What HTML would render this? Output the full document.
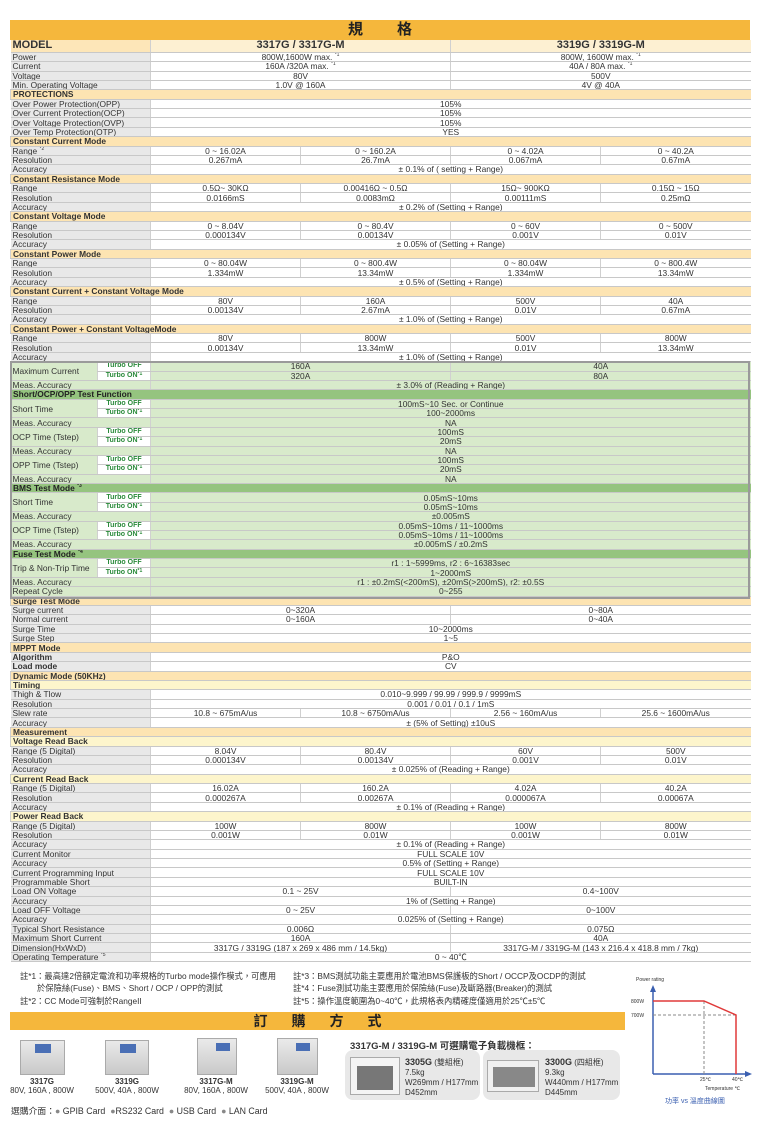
<!DOCTYPE html>
<html><head><meta charset="utf-8">
<style>
*{margin:0;padding:0;box-sizing:border-box}
body{width:760px;height:1133px;background:#fff;position:relative;overflow:hidden;font-family:"Liberation Sans","Noto Sans CJK TC",sans-serif;color:#333}
.title{position:absolute;left:10px;top:20px;width:740px;height:20px;background:#f5b73c;text-align:center;font:bold 15px/20px "Liberation Sans","Noto Sans CJK TC",sans-serif;color:#222;letter-spacing:34px;padding-left:34px}
table{position:absolute;left:10px;top:40px;width:740px;border-collapse:collapse;table-layout:fixed}
td{height:9.385px;font-size:8.4px;line-height:8px;padding:0;border-bottom:1px solid #c8c8c8;border-left:1px solid #d0d0d0;text-align:center;white-space:nowrap;overflow:hidden;background:#fff}
td.l{text-align:left;padding-left:2px;background:#e8e8e8;border-left:none}
tr.m td{height:12.3px;font-size:11px;font-weight:bold;background:#fdf0d2;line-height:11px}
tr.m td.l{background:#fde6b8}
tr.h td{background:#fde4b2;font-weight:bold;text-align:left;padding-left:2px}
tr.y td{background:#fdf5cc;font-weight:bold;text-align:left;padding-left:2px}
tr.g td{background:#d8eacb}
tr.g td.l{background:#d8eacb}
tr.gh td{background:#95c47f;font-weight:bold;text-align:left;padding-left:2px;color:#222}
td.t{background:#fff!important;color:#2a8a3a;font-weight:bold;font-size:7px;text-align:center}
sup{font-size:5px;vertical-align:top;line-height:5px}
.gbox{position:absolute;left:10px;top:361px;width:740px;height:238px;border:2px solid #9a9a9a;pointer-events:none}
.n{position:absolute;font-size:8.3px;color:#333;white-space:nowrap}
.bar{position:absolute;left:10px;top:1012px;width:615px;height:18px;background:#f5b73c;text-align:center;font:bold 14px/18px "Liberation Sans","Noto Sans CJK TC",sans-serif;letter-spacing:24px;padding-left:24px;color:#222}
.dev{position:absolute;background:linear-gradient(#eaeaea,#c9c9c9);border:1px solid #aaa}
.scr{position:absolute;background:#4a6fb5}
.cap{position:absolute;font-size:8px;text-align:center;width:90px}
.box{position:absolute;top:1050px;height:50px;background:#e8e8e8;border-radius:8px}
</style></head><body>
<div class="title">規格</div>
<table>
<colgroup><col style="width:87px"><col style="width:53px"><col style="width:150px"><col style="width:150px"><col style="width:150px"><col style="width:150px"></colgroup>
<tr class="m"><td class="l" colspan="2">MODEL</td><td colspan="2">3317G / 3317G-M</td><td colspan="2">3319G / 3319G-M</td></tr>
<tr><td class="l" colspan="2">Power</td><td colspan="2">800W,1600W max. <sup>*1</sup></td><td colspan="2">800W, 1600W max. <sup>*1</sup></td></tr>
<tr><td class="l" colspan="2">Current</td><td colspan="2">160A /320A max. <sup>*1</sup></td><td colspan="2">40A / 80A max. <sup>*1</sup></td></tr>
<tr><td class="l" colspan="2">Voltage</td><td colspan="2">80V</td><td colspan="2">500V</td></tr>
<tr><td class="l" colspan="2">Min. Operating Voltage</td><td colspan="2">1.0V @ 160A</td><td colspan="2">4V @ 40A</td></tr>
<tr class="h"><td colspan="6">PROTECTIONS</td></tr>
<tr><td class="l" colspan="2">Over Power Protection(OPP)</td><td colspan="4">105%</td></tr>
<tr><td class="l" colspan="2">Over Current Protection(OCP)</td><td colspan="4">105%</td></tr>
<tr><td class="l" colspan="2">Over Voltage Protection(OVP)</td><td colspan="4">105%</td></tr>
<tr><td class="l" colspan="2">Over Temp Protection(OTP)</td><td colspan="4">YES</td></tr>
<tr class="h"><td colspan="6">Constant Current Mode</td></tr>
<tr><td class="l" colspan="2">Range <sup>*2</sup></td><td>0 ~ 16.02A</td><td>0 ~ 160.2A</td><td>0 ~ 4.02A</td><td>0 ~ 40.2A</td></tr>
<tr><td class="l" colspan="2">Resolution</td><td>0.267mA</td><td>26.7mA</td><td>0.067mA</td><td>0.67mA</td></tr>
<tr><td class="l" colspan="2">Accuracy</td><td colspan="4">± 0.1% of ( setting + Range)</td></tr>
<tr class="h"><td colspan="6">Constant Resistance Mode</td></tr>
<tr><td class="l" colspan="2">Range</td><td>0.5Ω~ 30KΩ</td><td>0.00416Ω ~ 0.5Ω</td><td>15Ω~ 900KΩ</td><td>0.15Ω ~ 15Ω</td></tr>
<tr><td class="l" colspan="2">Resolution</td><td>0.0166mS</td><td>0.0083mΩ</td><td>0.00111mS</td><td>0.25mΩ</td></tr>
<tr><td class="l" colspan="2">Accuracy</td><td colspan="4">± 0.2% of (Setting + Range)</td></tr>
<tr class="h"><td colspan="6">Constant Voltage Mode</td></tr>
<tr><td class="l" colspan="2">Range</td><td>0 ~ 8.04V</td><td>0 ~ 80.4V</td><td>0 ~ 60V</td><td>0 ~ 500V</td></tr>
<tr><td class="l" colspan="2">Resolution</td><td>0.000134V</td><td>0.00134V</td><td>0.001V</td><td>0.01V</td></tr>
<tr><td class="l" colspan="2">Accuracy</td><td colspan="4">± 0.05% of (Setting + Range)</td></tr>
<tr class="h"><td colspan="6">Constant Power Mode</td></tr>
<tr><td class="l" colspan="2">Range</td><td>0 ~ 80.04W</td><td>0 ~ 800.4W</td><td>0 ~ 80.04W</td><td>0 ~ 800.4W</td></tr>
<tr><td class="l" colspan="2">Resolution</td><td>1.334mW</td><td>13.34mW</td><td>1.334mW</td><td>13.34mW</td></tr>
<tr><td class="l" colspan="2">Accuracy</td><td colspan="4">± 0.5% of (Setting + Range)</td></tr>
<tr class="h"><td colspan="6">Constant Current + Constant Voltage Mode</td></tr>
<tr><td class="l" colspan="2">Range</td><td>80V</td><td>160A</td><td>500V</td><td>40A</td></tr>
<tr><td class="l" colspan="2">Resolution</td><td>0.00134V</td><td>2.67mA</td><td>0.01V</td><td>0.67mA</td></tr>
<tr><td class="l" colspan="2">Accuracy</td><td colspan="4">± 1.0% of (Setting + Range)</td></tr>
<tr class="h"><td colspan="6">Constant Power + Constant VoltageMode</td></tr>
<tr><td class="l" colspan="2">Range</td><td>80V</td><td>800W</td><td>500V</td><td>800W</td></tr>
<tr><td class="l" colspan="2">Resolution</td><td>0.00134V</td><td>13.34mW</td><td>0.01V</td><td>13.34mW</td></tr>
<tr><td class="l" colspan="2">Accuracy</td><td colspan="4">± 1.0% of (Setting + Range)</td></tr>
<tr class="g"><td class="l" rowspan="2">Maximum Current</td><td class="t">Turbo OFF</td><td colspan="2">160A</td><td colspan="2">40A</td></tr>
<tr class="g"><td class="t">Turbo ON<sup>*1</sup></td><td colspan="2">320A</td><td colspan="2">80A</td></tr>
<tr class="g"><td class="l" colspan="2">Meas. Accuracy</td><td colspan="4">± 3.0% of (Reading + Range)</td></tr>
<tr class="gh"><td colspan="6">Short/OCP/OPP Test Function</td></tr>
<tr class="g"><td class="l" rowspan="2">Short Time</td><td class="t">Turbo OFF</td><td colspan="4">100mS~10 Sec. or Continue</td></tr>
<tr class="g"><td class="t">Turbo ON<sup>*1</sup></td><td colspan="4">100~2000ms</td></tr>
<tr class="g"><td class="l" colspan="2">Meas. Accuracy</td><td colspan="4">NA</td></tr>
<tr class="g"><td class="l" rowspan="2">OCP Time (Tstep)</td><td class="t">Turbo OFF</td><td colspan="4">100mS</td></tr>
<tr class="g"><td class="t">Turbo ON<sup>*1</sup></td><td colspan="4">20mS</td></tr>
<tr class="g"><td class="l" colspan="2">Meas. Accuracy</td><td colspan="4">NA</td></tr>
<tr class="g"><td class="l" rowspan="2">OPP Time (Tstep)</td><td class="t">Turbo OFF</td><td colspan="4">100mS</td></tr>
<tr class="g"><td class="t">Turbo ON<sup>*1</sup></td><td colspan="4">20mS</td></tr>
<tr class="g"><td class="l" colspan="2">Meas. Accuracy</td><td colspan="4">NA</td></tr>
<tr class="gh"><td colspan="6">BMS Test Mode <sup>*3</sup></td></tr>
<tr class="g"><td class="l" rowspan="2">Short Time</td><td class="t">Turbo OFF</td><td colspan="4">0.05mS~10ms</td></tr>
<tr class="g"><td class="t">Turbo ON<sup>*1</sup></td><td colspan="4">0.05mS~10ms</td></tr>
<tr class="g"><td class="l" colspan="2">Meas. Accuracy</td><td colspan="4">±0.005mS</td></tr>
<tr class="g"><td class="l" rowspan="2">OCP Time (Tstep)</td><td class="t">Turbo OFF</td><td colspan="4">0.05mS~10ms / 11~1000ms</td></tr>
<tr class="g"><td class="t">Turbo ON<sup>*1</sup></td><td colspan="4">0.05mS~10ms / 11~1000ms</td></tr>
<tr class="g"><td class="l" colspan="2">Meas. Accuracy</td><td colspan="4">±0.005mS / ±0.2mS</td></tr>
<tr class="gh"><td colspan="6">Fuse Test Mode <sup>*4</sup></td></tr>
<tr class="g"><td class="l" rowspan="2">Trip &amp; Non-Trip Time</td><td class="t">Turbo OFF</td><td colspan="4">r1 : 1~5999ms, r2 : 6~16383sec</td></tr>
<tr class="g"><td class="t">Turbo ON<sup>*1</sup></td><td colspan="4">1~2000mS</td></tr>
<tr class="g"><td class="l" colspan="2">Meas. Accuracy</td><td colspan="4">r1 : ±0.2mS(&lt;200mS), ±20mS(&gt;200mS), r2: ±0.5S</td></tr>
<tr class="g"><td class="l" colspan="2">Repeat Cycle</td><td colspan="4">0~255</td></tr>
<tr class="h"><td colspan="6">Surge Test Mode</td></tr>
<tr><td class="l" colspan="2">Surge current</td><td colspan="2">0~320A</td><td colspan="2">0~80A</td></tr>
<tr><td class="l" colspan="2">Normal current</td><td colspan="2">0~160A</td><td colspan="2">0~40A</td></tr>
<tr><td class="l" colspan="2">Surge Time</td><td colspan="4">10~2000ms</td></tr>
<tr><td class="l" colspan="2">Surge Step</td><td colspan="4">1~5</td></tr>
<tr class="h"><td colspan="6">MPPT Mode</td></tr>
<tr><td class="l" colspan="2" style="font-weight:bold">Algorithm</td><td colspan="4">P&amp;O</td></tr>
<tr><td class="l" colspan="2" style="font-weight:bold">Load mode</td><td colspan="4">CV</td></tr>
<tr class="h"><td colspan="6">Dynamic Mode (50KHz)</td></tr>
<tr class="y"><td colspan="6">Timing</td></tr>
<tr><td class="l" colspan="2">Thigh &amp; Tlow</td><td colspan="4">0.010~9.999 / 99.99 / 999.9 / 9999mS</td></tr>
<tr><td class="l" colspan="2">Resolution</td><td colspan="4">0.001 / 0.01 / 0.1 / 1mS</td></tr>
<tr><td class="l" colspan="2">Slew rate</td><td>10.8 ~ 675mA/us</td><td>10.8 ~ 6750mA/us</td><td>2.56 ~ 160mA/us</td><td>25.6 ~ 1600mA/us</td></tr>
<tr><td class="l" colspan="2">Accuracy</td><td colspan="4">± (5% of Setting) ±10uS</td></tr>
<tr class="h"><td colspan="6">Measurement</td></tr>
<tr class="y"><td colspan="6">Voltage Read Back</td></tr>
<tr><td class="l" colspan="2">Range (5 Digital)</td><td>8.04V</td><td>80.4V</td><td>60V</td><td>500V</td></tr>
<tr><td class="l" colspan="2">Resolution</td><td>0.000134V</td><td>0.00134V</td><td>0.001V</td><td>0.01V</td></tr>
<tr><td class="l" colspan="2">Accuracy</td><td colspan="4">± 0.025% of (Reading + Range)</td></tr>
<tr class="y"><td colspan="6">Current Read Back</td></tr>
<tr><td class="l" colspan="2">Range (5 Digital)</td><td>16.02A</td><td>160.2A</td><td>4.02A</td><td>40.2A</td></tr>
<tr><td class="l" colspan="2">Resolution</td><td>0.000267A</td><td>0.00267A</td><td>0.000067A</td><td>0.00067A</td></tr>
<tr><td class="l" colspan="2">Accuracy</td><td colspan="4">± 0.1% of (Reading + Range)</td></tr>
<tr class="y"><td colspan="6">Power Read Back</td></tr>
<tr><td class="l" colspan="2">Range (5 Digital)</td><td>100W</td><td>800W</td><td>100W</td><td>800W</td></tr>
<tr><td class="l" colspan="2">Resolution</td><td>0.001W</td><td>0.01W</td><td>0.001W</td><td>0.01W</td></tr>
<tr><td class="l" colspan="2">Accuracy</td><td colspan="4">± 0.1% of (Reading + Range)</td></tr>
<tr><td class="l" colspan="2">Current Monitor</td><td colspan="4">FULL SCALE 10V</td></tr>
<tr><td class="l" colspan="2">Accuracy</td><td colspan="4">0.5% of (Setting + Range)</td></tr>
<tr><td class="l" colspan="2">Current Programming Input</td><td colspan="4">FULL SCALE 10V</td></tr>
<tr><td class="l" colspan="2">Programmable Short</td><td colspan="4">BUILT-IN</td></tr>
<tr><td class="l" colspan="2">Load ON Voltage</td><td colspan="2">0.1 ~ 25V</td><td colspan="2">0.4~100V</td></tr>
<tr><td class="l" colspan="2">Accuracy</td><td colspan="4">1% of (Setting + Range)</td></tr>
<tr><td class="l" colspan="2">Load OFF Voltage</td><td colspan="2">0 ~ 25V</td><td colspan="2">0~100V</td></tr>
<tr><td class="l" colspan="2">Accuracy</td><td colspan="4">0.025% of (Setting + Range)</td></tr>
<tr><td class="l" colspan="2">Typical Short Resistance</td><td colspan="2">0.006Ω</td><td colspan="2">0.075Ω</td></tr>
<tr><td class="l" colspan="2">Maximum Short Current</td><td colspan="2">160A</td><td colspan="2">40A</td></tr>
<tr><td class="l" colspan="2">Dimension(HxWxD)</td><td colspan="2">3317G / 3319G (187 x 269 x 486 mm / 14.5kg)</td><td colspan="2">3317G-M / 3319G-M (143 x 216.4 x 418.8 mm / 7kg)</td></tr>
<tr><td class="l" colspan="2">Operating Temperature <sup>*5</sup></td><td colspan="4">0 ~ 40℃</td></tr>
</table>
<div class="gbox"></div>

<div class="n" style="left:20px;top:970px">註*1：最高達2倍額定電流和功率規格的Turbo mode操作模式，可應用</div>
<div class="n" style="left:37px;top:982px">於保險絲(Fuse)、BMS、Short / OCP / OPP的測試</div>
<div class="n" style="left:20px;top:995px">註*2：CC Mode可強制於RangeII</div>
<div class="n" style="left:293px;top:970px">註*3：BMS測試功能主要應用於電池BMS保護板的Short / OCCP及OCDP的測試</div>
<div class="n" style="left:293px;top:982px">註*4：Fuse測試功能主要應用於保險絲(Fuse)及斷路器(Breaker)的測試</div>
<div class="n" style="left:293px;top:995px">註*5：操作溫度範圍為0~40℃，此規格表內精確度僅適用於25℃±5℃</div>
<div class="bar">訂購方式</div>

<div class="dev" style="left:20px;top:1040px;width:45px;height:35px"><div class="scr" style="left:14px;top:3px;width:16px;height:9px"></div></div>
<div class="dev" style="left:105px;top:1040px;width:44px;height:35px"><div class="scr" style="left:14px;top:3px;width:16px;height:9px"></div></div>
<div class="dev" style="left:197px;top:1038px;width:40px;height:37px"><div class="scr" style="left:18px;top:4px;width:14px;height:8px"></div></div>
<div class="dev" style="left:277px;top:1038px;width:41px;height:37px"><div class="scr" style="left:18px;top:4px;width:14px;height:8px"></div></div>
<div class="cap" style="left:-3px;top:1077px"><b>3317G</b><br>80V, 160A , 800W</div>
<div class="cap" style="left:82px;top:1077px"><b>3319G</b><br>500V, 40A , 800W</div>
<div class="cap" style="left:171px;top:1077px"><b>3317G-M</b><br>80V, 160A , 800W</div>
<div class="cap" style="left:252px;top:1077px"><b>3319G-M</b><br>500V, 40A , 800W</div>
<div class="n" style="left:11px;top:1104px;font-size:8.8px">選購介面：<span style="color:#888">●</span> GPIB Card &nbsp;<span style="color:#888">●</span>RS232 Card &nbsp;<span style="color:#888">●</span> USB Card &nbsp;<span style="color:#888">●</span> LAN Card</div>
<div class="n" style="left:350px;top:1038px;font-size:9.5px;font-weight:bold">3317G-M / 3319G-M 可選購電子負載機框：</div>
<div class="box" style="left:345px;width:135px"></div>
<div class="box" style="left:483px;width:137px"></div>
<div class="dev" style="left:350px;top:1057px;width:50px;height:38px;background:#f4f4f4"><div style="position:absolute;left:6px;top:8px;width:36px;height:24px;background:#777"></div></div>
<div class="dev" style="left:487px;top:1060px;width:52px;height:32px;background:#f0f0f0"><div style="position:absolute;left:5px;top:6px;width:42px;height:20px;background:#888"></div></div>
<div class="n" style="left:405px;top:1057px;font-size:8px;line-height:10px"><b style="font-size:9px">3305G</b> (雙組框)<br>7.5kg<br>W269mm / H177mm<br>D452mm</div>
<div class="n" style="left:545px;top:1057px;font-size:8px;line-height:10px"><b style="font-size:9px">3300G</b> (四組框)<br>9.3kg<br>W440mm / H177mm<br>D445mm</div>

<svg style="position:absolute;left:0;top:0" width="760" height="1133">
<g stroke="#3a5fb0" stroke-width="1.5" fill="none"><line x1="653" y1="1074" x2="653" y2="988"/><line x1="653" y1="1074" x2="749" y2="1074"/></g>
<polygon points="653,985 650,992 656,992" fill="#3a5fb0"/><polygon points="752,1074 745,1071 745,1077" fill="#3a5fb0"/>
<g stroke="#888" stroke-dasharray="3,2" fill="none"><line x1="653" y1="1015" x2="736" y2="1015"/><line x1="704" y1="1001" x2="704" y2="1074"/></g>
<polyline points="653,1001 704,1001 736,1015 736,1074" stroke="#e03a3a" stroke-width="1.5" fill="none"/>
<g font-family="Liberation Sans" font-size="5px" fill="#333"><text x="636" y="981">Power rating</text><text x="631" y="1003">800W</text><text x="631" y="1017">700W</text><text x="700" y="1081">25℃</text><text x="732" y="1081">40℃</text><text x="705" y="1090">Temperature ℃</text></g>
<text x="665" y="1103" font-family="Liberation Sans,Noto Sans CJK TC,sans-serif" font-size="7px" fill="#3a5fb0">功率 vs 溫度曲線圖</text>
</svg>
</body></html>
